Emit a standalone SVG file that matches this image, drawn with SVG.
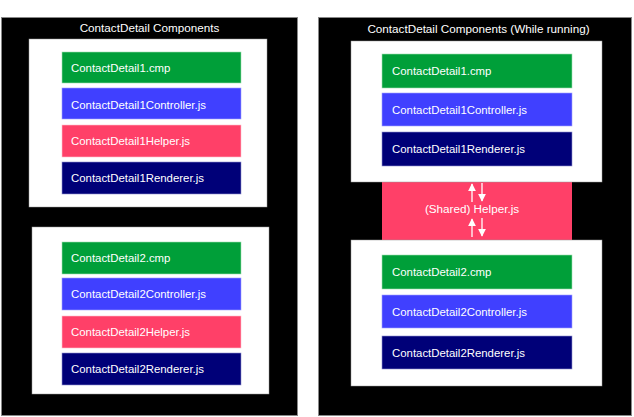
<svg xmlns="http://www.w3.org/2000/svg" width="634" height="417" viewBox="0 0 634 417">
<defs>
<style>
.panel{fill:#000000;stroke:#888888;stroke-width:1}
.inner{fill:#ffffff;stroke:#999999;stroke-width:0.5}
.t{font-family:"Liberation Sans","DejaVu Sans",sans-serif;font-size:11.4px;fill:#ffffff}
.title{font-family:"Liberation Sans","DejaVu Sans",sans-serif;font-size:11.7px;fill:#ffffff;text-anchor:middle}
.cmp{fill:#009F39;stroke:#9fe0b0;stroke-width:0.6}
.ctrl{fill:#4040FF;stroke:#a0a0ff;stroke-width:0.6}
.help{fill:#FF4068;stroke:#ffc0cc;stroke-width:0.6}
.rend{fill:#000078;stroke:#9090d0;stroke-width:0.6}
.arr{stroke:#ffffff;stroke-width:1.3;fill:none}
</style>
<marker id="ah" viewBox="0 0 10 10" refX="9" refY="5" markerWidth="6" markerHeight="6" orient="auto">
<path d="M0,0 L10,5 L0,10 Z" fill="#ffffff"/>
</marker>
</defs>
<rect x="0" y="0" width="634" height="417" fill="#ffffff"/>

<g id="left-panel">
<rect class="panel" x="1.5" y="17.5" width="296" height="398"/>
<text class="title" x="149.5" y="32">ContactDetail Components</text>
</g>
<g id="left-comp1">
<rect class="inner" x="29" y="39" width="238" height="168"/>
<g id="l1-cmp"><rect class="cmp" x="62" y="52" width="179" height="31"/><text class="t" x="71" y="71.5">ContactDetail1.cmp</text></g>
<g id="l1-ctrl"><rect class="ctrl" x="62" y="88" width="179" height="31"/><text class="t" x="71" y="108.5">ContactDetail1Controller.js</text></g>
<g id="l1-help"><rect class="help" x="62" y="125" width="179" height="32"/><text class="t" x="71" y="145">ContactDetail1Helper.js</text></g>
<g id="l1-rend"><rect class="rend" x="62" y="162" width="179" height="32"/><text class="t" x="71" y="182">ContactDetail1Renderer.js</text></g>
</g>
<g id="left-comp2">
<rect class="inner" x="32" y="227" width="237" height="167"/>
<g id="l2-cmp"><rect class="cmp" x="62" y="242" width="179" height="32"/><text class="t" x="71" y="261.5">ContactDetail2.cmp</text></g>
<g id="l2-ctrl"><rect class="ctrl" x="62" y="278" width="179" height="32"/><text class="t" x="71" y="298">ContactDetail2Controller.js</text></g>
<g id="l2-help"><rect class="help" x="62" y="316" width="179" height="32"/><text class="t" x="71" y="336">ContactDetail2Helper.js</text></g>
<g id="l2-rend"><rect class="rend" x="62" y="353" width="179" height="32"/><text class="t" x="71" y="373">ContactDetail2Renderer.js</text></g>
</g>

<g id="right-panel">
<rect class="panel" x="318.5" y="17.5" width="313" height="398"/>
<text class="title" x="478.5" y="33">ContactDetail Components (While running)</text>
</g>
<g id="shared-helper">
<rect fill="#FF4068" x="382" y="180" width="190" height="62"/>
<text class="title" x="472" y="213">(Shared) Helper.js</text>
</g>
<g id="right-comp1">
<rect class="inner" x="351" y="41" width="251" height="141"/>
<g id="r1-cmp"><rect class="cmp" x="382" y="54" width="190" height="34"/><text class="t" x="392" y="74.5">ContactDetail1.cmp</text></g>
<g id="r1-ctrl"><rect class="ctrl" x="382" y="93" width="190" height="33"/><text class="t" x="392" y="114">ContactDetail1Controller.js</text></g>
<g id="r1-rend"><rect class="rend" x="382" y="132" width="190" height="34"/><text class="t" x="392" y="153">ContactDetail1Renderer.js</text></g>
</g>
<g id="right-comp2">
<rect class="inner" x="351" y="240" width="251" height="146"/>
<g id="r2-cmp"><rect class="cmp" x="382" y="255" width="190" height="34"/><text class="t" x="392" y="276">ContactDetail2.cmp</text></g>
<g id="r2-ctrl"><rect class="ctrl" x="382" y="295" width="190" height="33"/><text class="t" x="392" y="316">ContactDetail2Controller.js</text></g>
<g id="r2-rend"><rect class="rend" x="382" y="336" width="190" height="33"/><text class="t" x="392" y="357">ContactDetail2Renderer.js</text></g>
</g>

<g id="connectors">
<line class="arr" x1="472" y1="202" x2="472" y2="184" marker-end="url(#ah)"/>
<line class="arr" x1="482" y1="183" x2="482" y2="201" marker-end="url(#ah)"/>
<line class="arr" x1="472" y1="237" x2="472" y2="219" marker-end="url(#ah)"/>
<line class="arr" x1="482" y1="218" x2="482" y2="236" marker-end="url(#ah)"/>
</g>
</svg>
